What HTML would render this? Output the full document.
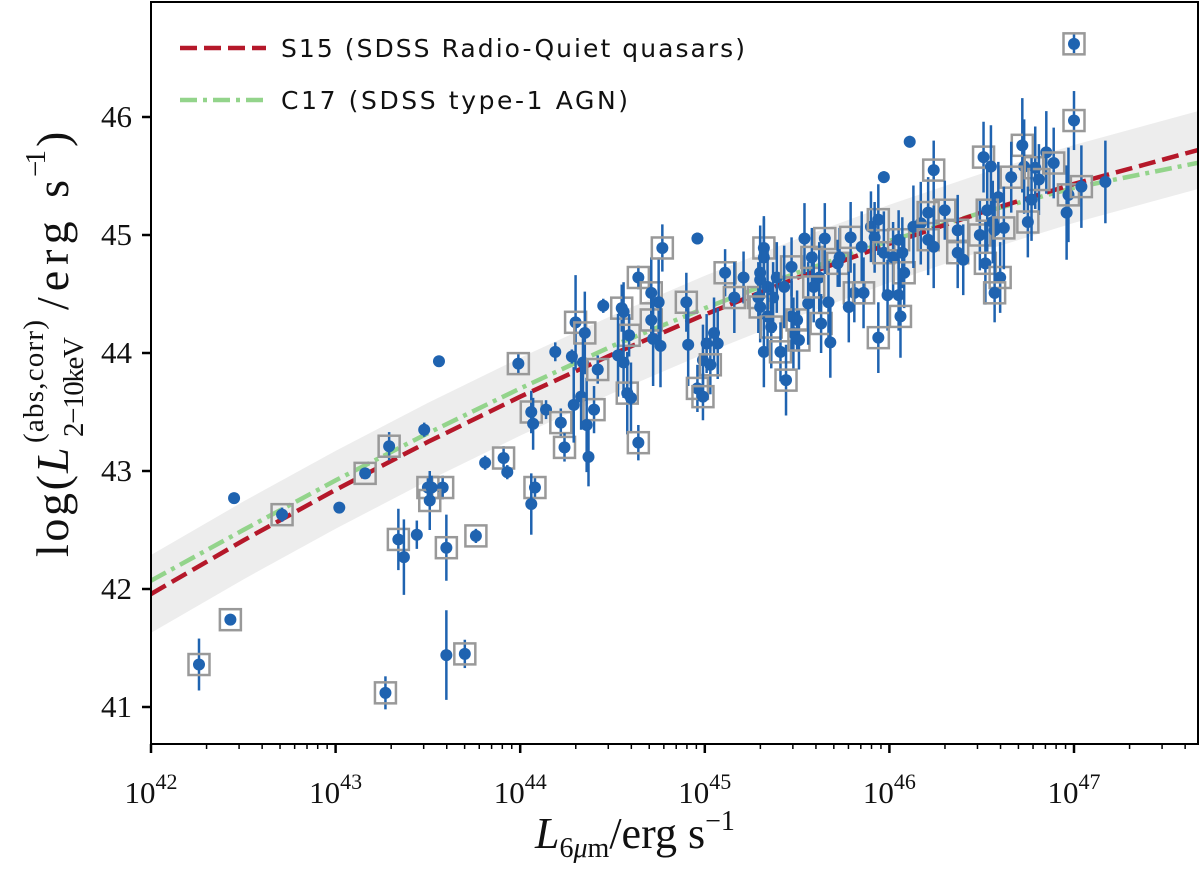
<!DOCTYPE html>
<html><head><meta charset="utf-8"><style>
body{margin:0;background:#fff}
svg{display:block}
.tk{font-family:"Liberation Serif",serif;font-size:31px;fill:#111}
.lg{font-family:"DejaVu Sans","Liberation Sans",sans-serif;font-size:25px;fill:#111}
</style></head><body>
<svg id="chart" width="1200" height="879" viewBox="0 0 1200 879" xmlns="http://www.w3.org/2000/svg">
<g id="band"></g>
<g id="lines"></g>
<g id="pts"></g>
<g id="axes"></g>
<g>
<line x1="180" y1="48" x2="266" y2="48" stroke="#b5182a" stroke-width="4.5" stroke-dasharray="17,7"/>
<text class="lg" x="281" y="57" textLength="464">S15 (SDSS Radio-Quiet quasars)</text>
<line x1="180" y1="100" x2="266" y2="100" stroke="#93d48b" stroke-width="4.5" stroke-dasharray="17,6,4,6"/>
<text class="lg" x="281" y="109" textLength="347">C17 (SDSS type-1 AGN)</text>
</g>
<text x="535" y="848" font-family="Liberation Serif,serif" font-size="44" fill="#111"><tspan font-style="italic">L</tspan><tspan font-size="28" dy="9">6</tspan><tspan font-size="28" font-style="italic">μ</tspan><tspan font-size="28">m</tspan><tspan dy="-9">/erg s</tspan><tspan font-size="28" dy="-18">−1</tspan></text>
<g transform="translate(68,557) rotate(-90)" font-family="Liberation Serif,serif" fill="#111">
<text x="0" y="0" font-size="46" textLength="82">log(</text>
<text x="84" y="0" font-size="46" font-style="italic">L</text>
<text x="120" y="15" font-size="29" textLength="100">2−10keV</text>
<text x="114" y="-25" font-size="29" textLength="123">(abs,corr)</text>
<text x="247" y="0" font-size="46" textLength="130">/erg s</text>
<text x="380" y="-23" font-size="29" textLength="27">−1</text>
<text x="410" y="0" font-size="46">)</text>
</g>
</svg>
<script>
const curveX=[42,42.5,43,43.5,44,44.5,45,45.5,46,46.5,47,47.7];
const s15Y=[41.958,42.411,42.841,43.247,43.630,43.989,44.325,44.637,44.926,45.191,45.433,45.732];
const c17Y=[42.07,42.50,42.92,43.32,43.70,44.06,44.38,44.68,44.95,45.19,45.40,45.62];
const bandHalf=0.33;
const xTicks=[42,43,44,45,46,47];
const yTicks=[41,42,43,44,45,46];
const ptX=[42.26,42.43,42.45,42.71,43.02,43.16,43.29,43.48,43.56,43.34,43.37,43.44,43.50,43.58,43.51,43.60,43.52,43.60,43.70,43.27,43.76,43.81,43.91,43.93,43.99,44.06,44.07,44.08,44.06,44.14,44.19,44.28,44.22,44.24,
44.30,44.35,44.34,44.29,44.33,44.40,44.36,44.37,44.42,44.45,44.55,44.56,44.64,44.71,44.75,44.71,44.59,44.53,44.56,44.58,44.60,44.64,44.72,44.76,44.77,
44.96,44.90,44.91,45.05,45.07,45.01,44.99,45.03,44.96,44.99,45.11,45.21,45.16,45.32,45.32,45.30,45.30,45.29,45.34,45.39,45.37,45.47,45.43,45.30,45.34,45.36,45.32,45.41,45.44,45.47,45.50,45.48,45.51,45.54,45.56,45.58,45.62,45.59,45.65,45.67,45.63,45.68,45.72,45.73,45.79,45.85,45.81,45.86,45.78,45.90,45.94,45.92,45.97,45.97,46.02,46.05,46.07,46.08,45.99,46.05,46.06,45.94,46.13,46.17,46.21,46.24,46.30,46.21,46.24,46.37,46.37,46.40,46.49,46.52,46.60,46.57,46.51,46.55,46.72,46.73,46.79,46.85,46.89,46.81,46.66,46.59,46.53,46.56,46.57,46.62,46.75,46.77,46.96,46.97,47.04,47.17,47.00,47.00,46.11];
const ptY=[41.36,41.74,42.77,42.63,42.69,42.98,43.21,43.35,43.93,42.42,42.27,42.46,42.86,42.86,42.75,42.35,42.86,41.44,41.45,41.12,42.45,43.07,43.11,42.99,43.91,43.50,43.40,42.86,42.72,43.52,44.01,43.97,43.41,43.20,
44.26,44.17,43.92,43.56,43.63,43.52,43.39,43.12,43.86,44.40,44.38,44.35,44.64,44.51,44.43,44.28,44.15,43.98,43.92,43.66,43.62,43.24,44.12,44.06,44.89,
44.97,44.43,44.07,44.17,44.08,44.08,43.94,43.90,43.70,43.63,44.68,44.64,44.47,44.89,44.81,44.68,44.62,44.47,44.56,44.64,44.47,44.73,44.56,44.39,44.31,44.22,44.01,44.01,43.77,44.31,44.28,44.17,44.11,44.97,44.42,44.81,44.64,44.56,44.97,44.43,44.25,44.09,44.76,44.81,44.98,44.90,44.51,44.51,44.39,45.07,45.13,44.98,45.49,44.85,44.81,44.96,44.85,44.68,44.49,44.49,44.31,44.13,45.07,45.10,45.19,45.55,45.21,44.96,44.90,45.04,44.85,44.79,45.00,44.76,44.64,44.51,45.66,45.58,45.76,45.58,45.57,45.70,45.61,45.47,45.49,45.32,45.21,45.11,45.04,45.06,45.11,45.30,45.19,45.34,45.41,45.45,46.62,45.97,45.79];
const ptErr=[0.22,0.04,0.03,0.06,0.03,0.04,0.12,0.06,0.03,0.26,0.32,0.12,0.08,0.10,0.25,0.28,0.10,0.38,0.12,0.14,0.06,0.06,0.10,0.06,0.08,0.18,0.22,0.08,0.26,0.08,0.08,0.06,0.12,0.12,
0.40,0.35,0.25,0.32,0.28,0.20,0.40,0.25,0.12,0.06,0.20,0.25,0.10,0.30,0.38,0.20,0.18,0.35,0.30,0.35,0.30,0.15,0.40,0.35,0.20,
0.05,0.25,0.35,0.30,0.30,0.25,0.30,0.25,0.20,0.20,0.20,0.22,0.30,0.25,0.35,0.40,0.35,0.30,0.35,0.30,
0.30,0.25,0.35,0.30,0.30,0.35,0.30,0.25,0.30,0.30,0.25,0.30,0.25,0.30,0.35,0.25,0.30,0.30,0.30,0.35,
0.25,0.30,0.20,0.25,0.30,0.30,0.25,0.30,0.30,0.30,0.30,0.30,0.05,0.35,0.30,0.25,0.30,0.30,0.30,0.30,
0.35,0.30,0.35,0.35,0.30,0.25,0.25,0.30,0.35,0.30,0.30,0.30,0.30,0.35,0.30,0.25,0.30,0.35,0.40,0.40,
0.35,0.35,0.30,0.30,0.30,0.30,0.35,0.35,0.30,0.35,0.30,0.35,0.40,0.40,0.35,0.35,0.08,0.25,0.05];
const ptBox=[1,1,0,1,0,1,1,0,0,1,0,0,1,1,1,1,0,0,1,1,1,0,1,0,1,1,0,1,0,0,0,0,1,1,
1,1,0,0,0,1,0,0,1,0,1,0,1,1,0,1,1,0,0,1,0,1,0,0,1,
0,1,0,0,0,0,0,1,1,1,1,0,1,1,0,0,0,1,0,0,
0,1,0,1,0,1,0,1,1,0,1,0,1,0,0,1,0,1,1,0,
1,0,1,0,1,0,1,1,0,0,1,0,0,1,0,1,0,1,0,0,
1,1,0,0,1,1,1,1,0,1,1,0,1,1,1,1,1,0,1,0,
1,0,1,1,1,0,1,0,0,1,1,0,0,1,1,0,1,1,0];

const X0=151,X1=1198,Y0=2,Y1=744;
const xmin=42,xmax=42+(X1-X0)/184.6;
const ymin=41-(Y1-707)/118,ymax=41+(707-Y0)/118;
const sx=v=>X0+(v-xmin)/(xmax-xmin)*(X1-X0);
const sy=v=>Y1-(v-ymin)/(ymax-ymin)*(Y1-Y0);
const NS='http://www.w3.org/2000/svg';
function mk(tag,parent,attrs){const e=document.createElementNS(NS,tag);for(const k in attrs)e.setAttribute(k,attrs[k]);parent.appendChild(e);return e;}
const clip=mk('clipPath',document.getElementById('chart'),{id:'pc'});
mk('rect',clip,{x:X0,y:Y0,width:X1-X0,height:Y1-Y0});
let up=curveX.map((x,i)=>sx(x)+','+sy(s15Y[i]+bandHalf));
let dn=curveX.map((x,i)=>sx(x)+','+sy(s15Y[i]-bandHalf)).reverse();
const band=mk('polygon',document.getElementById('band'),{points:up.concat(dn).join(' '),fill:'#ededed','clip-path':'url(#pc)'});


function path(ys){let d='';for(let i=0;i<curveX.length;i++){d+=(i?'L':'M')+sx(curveX[i]).toFixed(1)+','+sy(ys[i]).toFixed(1);}return d;}
const lc=document.getElementById('lines');
const l2=mk('path',lc,{d:path(c17Y),fill:'none',stroke:'#93d48b','stroke-width':4.5,'stroke-dasharray':'17,6,4,6','clip-path':'url(#pc)'});


const l1=mk('path',lc,{d:path(s15Y),fill:'none',stroke:'#b5182a','stroke-width':4.5,'stroke-dasharray':'17,7','clip-path':'url(#pc)'});


const pg=document.getElementById('pts');
for(let i=0;i<ptX.length;i++){
  const g=mk('g',pg,{});
  
  
  const cx=sx(ptX[i]),cy=sy(ptY[i]);
  mk('line',g,{x1:cx,x2:cx,y1:sy(ptY[i]+ptErr[i]),y2:sy(ptY[i]-ptErr[i]),stroke:'#1f63b0','stroke-width':2.5});
  if(ptBox[i])mk('rect',g,{x:cx-10.5,y:cy-10.5,width:21,height:21,fill:'none',stroke:'#999','stroke-width':2.5});
  mk('circle',g,{cx:cx,cy:cy,r:6,fill:'#1f63b0'});
}
const ax=document.getElementById('axes');
mk('rect',ax,{x:X0,y:Y0,width:X1-X0,height:Y1-Y0,fill:'none',stroke:'#000','stroke-width':2});
for(let d=42;d<48;d++){for(let m=2;m<10;m++){const v=d+Math.log10(m);if(v>xmax)break;mk('line',ax,{x1:sx(v),x2:sx(v),y1:Y1,y2:Y1+5,stroke:'#000','stroke-width':1.5});}}
xTicks.forEach(t=>{
  mk('line',ax,{x1:sx(t),x2:sx(t),y1:Y1,y2:Y1+9,stroke:'#000','stroke-width':2.5});
  const tx=mk('text',ax,{x:sx(t),y:803,'text-anchor':'middle',class:'tk'});
  
  
  tx.innerHTML='10<tspan font-size="22" dy="-14">'+t+'</tspan>';
});
yTicks.forEach(t=>{
  mk('line',ax,{x1:X0-9,x2:X0,y1:sy(t),y2:sy(t),stroke:'#000','stroke-width':2.5});
  const tx=mk('text',ax,{x:132,y:sy(t)+10,'text-anchor':'end',class:'tk'});
  
  
  tx.textContent=t;
});
</script>
</body></html>
